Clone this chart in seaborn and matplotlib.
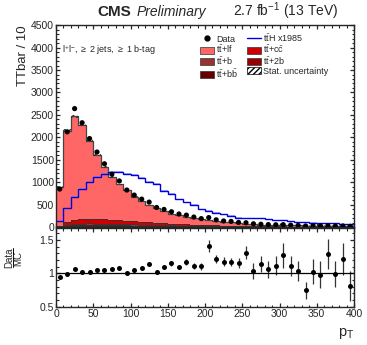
import numpy as np
import matplotlib
matplotlib.use("Agg")
import matplotlib.pyplot as plt
import seaborn as sns
from matplotlib.ticker import MultipleLocator
from matplotlib.patches import Patch
from matplotlib.lines import Line2D

# pT binning: 40 bins of 10 from 0 to 400
edges = np.arange(0, 410, 10)
centers = edges[:-1] + 5

data = [847, 2122, 2640, 2325, 1972, 1672, 1410, 1177, 1027, 825,
        712, 622, 555, 435, 392, 340, 290, 265, 222, 187,
        210, 160, 135, 125, 102, 95, 72, 62, 54, 50,
        52, 42, 36, 24, 30, 26, 30, 22, 24, 15]

tt_lf = [860, 2040, 2317, 2108, 1738, 1428, 1171, 950, 801, 685,
         546, 459, 384, 329, 273, 221, 199, 168, 149, 123,
         109, 96, 83, 79, 64, 52, 51, 37, 36, 32,
         29, 28, 26, 24, 22, 21, 17, 17, 15, 15]
tt_cc = [16, 58, 82, 95, 102, 95, 95, 88, 82, 77,
         74, 66, 58, 52, 47, 41, 36, 32, 29, 25,
         22, 20, 18, 15, 13, 12, 10, 9, 8, 7,
         7, 6, 5, 4, 4, 3, 3, 3, 3, 2]
tt_b = [6, 21, 30, 34, 37, 34, 34, 32, 30, 28,
        27, 24, 21, 19, 17, 15, 13, 12, 10, 9,
        8, 7, 6, 6, 5, 4, 4, 3, 3, 3,
        2, 2, 2, 2, 1, 1, 1, 1, 1, 1]
tt_2b = [3, 10, 15, 17, 19, 17, 17, 16, 15, 14,
         13, 12, 10, 10, 8, 8, 7, 6, 5, 5,
         4, 4, 3, 3, 2, 2, 2, 2, 2, 1,
         1, 1, 1, 1, 1, 1, 1, 0.5, 0.5, 0.5]
tt_bb = [5, 16, 23, 26, 28, 26, 26, 24, 23, 21,
         20, 18, 16, 14, 13, 11, 10, 9, 8, 7,
         6, 5, 5, 4, 4, 3, 3, 3, 2, 2,
         2, 1.5, 1, 1, 1, 1, 1, 0.5, 0.5, 0.5]

# ttH signal scaled x1985
tth = [135, 420, 680, 845, 995, 1115, 1190, 1235, 1225, 1190,
       1150, 1090, 1000, 965, 800, 733, 620, 553, 493, 397,
       365, 320, 291, 253, 210, 200, 195, 190, 180, 160,
       150, 130, 120, 110, 100, 95, 90, 80, 75, 70]

ratio = [0.95, 0.99, 1.07, 1.02, 1.025, 1.045, 1.05, 1.06, 1.08, 1.0,
         1.045, 1.075, 1.135, 1.025, 1.09, 1.15, 1.095, 1.17, 1.105, 1.105,
         1.41, 1.21, 1.175, 1.17, 1.155, 1.31, 1.035, 1.14, 1.06, 1.115,
         1.27, 1.11, 1.035, 0.745, 1.025, 0.98, 1.29, 0.99, 1.215, 0.81]
ratio_err = [0.012, 0.01, 0.01, 0.01, 0.012, 0.012, 0.014, 0.015, 0.016, 0.018,
             0.02, 0.022, 0.025, 0.027, 0.03, 0.033, 0.036, 0.04, 0.045, 0.048,
             0.085, 0.06, 0.065, 0.065, 0.07, 0.1, 0.12, 0.12, 0.13, 0.14,
             0.19, 0.15, 0.15, 0.13, 0.19, 0.2, 0.22, 0.2, 0.24, 0.22]

stat_unc_frac = 0.015

sns.set_style("ticks")
plt.rcParams["font.family"] = ["Liberation Sans", "DejaVu Sans"]
plt.rcParams["mathtext.fontset"] = "custom"
plt.rcParams["mathtext.rm"] = "Liberation Sans"
plt.rcParams["mathtext.it"] = "Liberation Sans:italic"
plt.rcParams["axes.linewidth"] = 1.0

fig = plt.figure(figsize=(3.67, 3.45), dpi=100)
ax = fig.add_axes([0.1526, 0.342, 0.812, 0.585])
rax = fig.add_axes([0.1526, 0.111, 0.812, 0.228], sharex=ax)

c_lf, c_cc, c_b, c_2b, c_bb = "#ff6666", "#cc0000", "#993333", "#990000", "#660000"

stack = [(tt_bb, c_bb), (tt_2b, c_2b), (tt_b, c_b), (tt_cc, c_cc), (tt_lf, c_lf)]
base = np.zeros(len(centers))
for vals, col in stack:
    top = base + np.array(vals, dtype=float)
    ax.stairs(top, edges, baseline=base, fill=True, color=col, lw=0)
    ax.stairs(top, edges, baseline=None, color="#333333", lw=0.6)
    base = top
total = base
ax.stairs(total, edges, baseline=None, color="#444444", lw=0.9)
ax.stairs(total * (1 + stat_unc_frac), edges, baseline=total * (1 - stat_unc_frac),
          fill=True, facecolor="none", edgecolor="#333333", hatch="//////", lw=0)

tth = np.array(tth, dtype=float)
ax.stairs(tth * 1.02, edges, baseline=tth * 0.99, fill=True, color="#8080ff", alpha=0.6, lw=0)
ax.stairs(tth, edges, baseline=None, color="#0000dd", lw=1.0)

sns.scatterplot(x=centers, y=data, ax=ax, color="black", s=14, edgecolor="none", zorder=5)

ax.set_xlim(0, 400)
ax.set_ylim(0, 4500)
ax.set_ylabel("TTbar / 10", loc="top", fontsize=9.5, labelpad=1)
ax.yaxis.set_major_locator(MultipleLocator(500))
ax.yaxis.set_minor_locator(MultipleLocator(100))
ax.xaxis.set_major_locator(MultipleLocator(50))
ax.xaxis.set_minor_locator(MultipleLocator(10))
plt.setp(ax.get_xticklabels(), visible=False)

for a in (ax, rax):
    a.tick_params(which="both", direction="in", top=True, right=True, labelsize=7.5, pad=1.5)
    a.tick_params(which="major", length=3.2, width=0.9)
    a.tick_params(which="minor", length=1.8, width=0.8)

rax.errorbar(centers, ratio, yerr=ratio_err, fmt="o", color="black", ms=3.6,
             elinewidth=0.9, capsize=0, mec="none", ecolor="#333333")
rax.axhline(1.0, color="black", lw=0.9)
rax.set_ylim(0.5, 1.68)
rax.yaxis.set_major_locator(MultipleLocator(0.5))
rax.yaxis.set_minor_locator(MultipleLocator(0.1))
rax.set_yticks([0.5, 1, 1.5])
rax.set_yticklabels(["0.5", "1", "1.5"])
rax.set_xlabel(r"$\mathrm{p_{T}}$", loc="right", fontsize=10.5, labelpad=5)

# Data / MC stacked label
fig.text(0.024, 0.252, "Data", rotation=90, fontsize=7, ha="center", va="center")
fig.text(0.049, 0.252, "MC", rotation=90, fontsize=7, ha="center", va="center")
fig.add_artist(Line2D([0.036, 0.036], [0.225, 0.281], color="black", lw=0.7,
                      transform=fig.transFigure))

fig.text(0.264, 0.955, "CMS", fontsize=11, fontweight="bold", va="baseline")
fig.text(0.373, 0.955, "Preliminary", fontsize=10, style="italic", va="baseline")
fig.text(0.922, 0.955, r"2.7 fb$^{-1}$ (13 TeV)", fontsize=10, ha="right", va="baseline")

ax.text(0.02, 0.91, r"l$^{+}$l$^{-}$, $\geq$ 2 jets, $\geq$ 1 b-tag", transform=ax.transAxes,
        fontsize=6.5, va="top")

tt = r"$\mathrm{t\bar{t}}$"
handles = [
    Line2D([], [], marker="o", color="black", ls="none", ms=3.5),
    Patch(facecolor=c_lf, edgecolor="#333333", lw=0.5),
    Patch(facecolor=c_b, edgecolor="#333333", lw=0.5),
    Patch(facecolor=c_bb, edgecolor="#333333", lw=0.5),
    Line2D([], [], color="#0000dd", lw=1.0),
    Patch(facecolor=c_cc, edgecolor="#333333", lw=0.5),
    Patch(facecolor=c_2b, edgecolor="#333333", lw=0.5),
    Patch(facecolor="white", edgecolor="black", hatch="//////", lw=0.5),
]
labels = ["Data", tt + "+lf", tt + "+b", tt + r"+b$\bar{\mathrm{b}}$",
          r"$\mathrm{t\bar{t}H}$ x1985", tt + r"+c$\bar{\mathrm{c}}$", tt + "+2b",
          "Stat. uncertainty"]
ax.legend(handles, labels, ncol=2, loc="upper left", bbox_to_anchor=(0.47, 0.985),
          frameon=False, fontsize=6.5, handlelength=1.55, handleheight=0.8,
          handletextpad=0.25, columnspacing=1.0, labelspacing=0.0, borderaxespad=0)

fig.savefig("out.png", dpi=100)
